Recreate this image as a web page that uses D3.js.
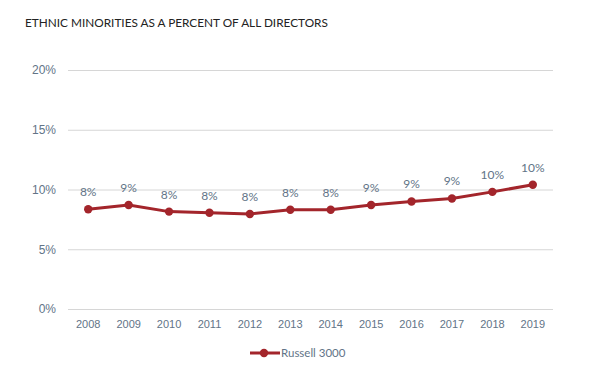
<!DOCTYPE html>
<html>
<head>
<meta charset="utf-8">
<script src="https://cdn.jsdelivr.net/npm/d3@7"></script>
<style>
body { margin: 0; background: #fff; }
svg { display: block; font-family: "Source Sans Pro", Lato, "Open Sans", sans-serif; }
</style>
</head>
<body>
<div id="chart"></div>
<script>
var years = ['2008', '2009', '2010', '2011', '2012', '2013', '2014', '2015', '2016', '2017', '2018', '2019'];
var russell = [8.35, 8.7, 8.15, 8.05, 7.95, 8.3, 8.3, 8.7, 9.0, 9.25, 9.8, 10.4];
var yTicks = [0, 5, 10, 15, 20];
var seriesName = 'Russell 3000';

var W = 592, H = 384;
var plotLeft = 68, plotRight = 553, plotTop = 70, plotBottom = 309;
var red = '#a3252b', axisText = '#627487';

var svg = d3.select('#chart').append('svg').attr('width', W).attr('height', H);

svg.append('text').attr('x', 25).attr('y', 27)
	.attr('font-size', 11.8).attr('fill', '#222')
	.text('ETHNIC MINORITIES AS A PERCENT OF ALL DIRECTORS');

var x = d3.scaleBand().domain(years).range([plotLeft, plotRight]);
var y = d3.scaleLinear().domain([0, 20]).range([plotBottom, plotTop]);

// grid lines
svg.append('g').selectAll('line').data(yTicks).enter().append('line')
	.attr('x1', plotLeft).attr('x2', plotRight)
	.attr('y1', function (d) { return y(d) + 0.5; })
	.attr('y2', function (d) { return y(d) + 0.5; })
	.attr('stroke', '#d6d6d6').attr('stroke-width', 1);

var yAxis = svg.append('g').attr('transform', 'translate(' + plotLeft + ',0)')
	.call(d3.axisLeft(y).tickValues(yTicks).tickSize(0).tickPadding(12)
		.tickFormat(function (d) { return d + '%'; }));
yAxis.select('.domain').remove();
yAxis.selectAll('text').attr('font-size', 12).attr('fill', axisText)
	.attr('font-family', null);

var xAxis = svg.append('g').attr('transform', 'translate(0,' + plotBottom + ')')
	.call(d3.axisBottom(x).tickSize(0).tickPadding(11));
xAxis.select('.domain').remove();
xAxis.selectAll('text').attr('font-size', 11).attr('fill', axisText)
	.attr('font-family', null);

function cx(d, i) { return x(years[i]) + x.bandwidth() / 2; }

var line = d3.line().x(cx).y(function (d) { return y(d); });

svg.append('path').datum(russell).attr('d', line)
	.attr('fill', 'none').attr('stroke', red).attr('stroke-width', 3)
	.attr('stroke-linejoin', 'round');

svg.append('g').selectAll('circle').data(russell).enter().append('circle')
	.attr('cx', cx).attr('cy', function (d) { return y(d); })
	.attr('r', 4.2).attr('fill', red);

svg.append('g').selectAll('text').data(russell).enter().append('text')
	.attr('x', cx).attr('y', function (d) { return y(d) - 13; })
	.attr('text-anchor', 'middle').attr('font-size', 12).attr('fill', axisText)
	.text(function (d) { return Math.round(d) + '%'; });

// legend
var lg = svg.append('g').attr('transform', 'translate(250,353)');
lg.append('line').attr('x1', 0).attr('x2', 30).attr('y1', 0).attr('y2', 0)
	.attr('stroke', red).attr('stroke-width', 3);
lg.append('circle').attr('cx', 14).attr('cy', 0).attr('r', 4.2).attr('fill', red);
lg.append('text').attr('x', 31).attr('y', 4).attr('font-size', 11.5)
	.attr('fill', axisText).text(seriesName);
</script>
</body>
</html>
